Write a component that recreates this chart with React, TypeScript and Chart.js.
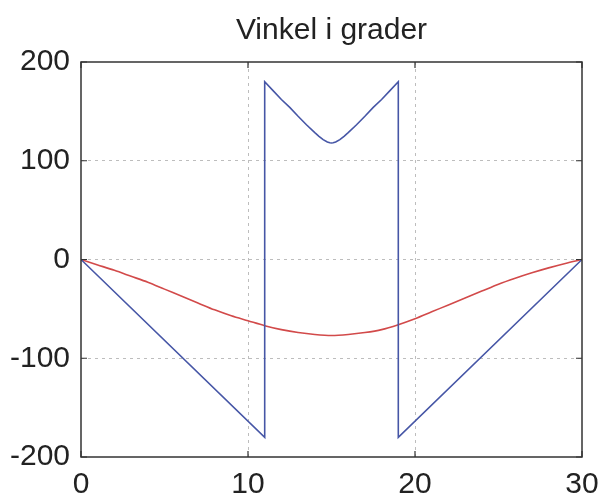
import React, { useEffect, useRef } from "react";
import { Chart, registerables } from "chart.js";

Chart.register(...registerables);

const chartTitle = "Vinkel i grader";
const xTicks = [0, 10, 20, 30];
const yTicks = [-200, -100, 0, 100, 200];

const blueX = [0, 11, 11, 11.5, 12, 12.5, 13, 13.5, 14, 14.25, 14.5, 14.75, 14.9, 15, 15.1, 15.25, 15.5, 15.75, 16, 16.5, 17, 17.5, 18, 18.5, 19, 19, 30];
const blueY = [0, -180, 180, 171, 162, 154, 145, 136.5, 128.5, 124.7, 121.4, 119, 118.2, 118, 118.2, 119, 121.4, 124.7, 128.5, 136.5, 145, 154, 162, 171, 180, -180, 0];

const redX = [0, 1, 2, 3, 4, 5, 6, 7, 8, 9, 10, 11, 12, 13, 14, 15, 16, 17, 18, 19, 20, 21, 22, 23, 24, 25, 26, 27, 28, 29, 30];
const redY = [0, -5.5, -11, -17, -23, -30, -37, -44, -51, -57, -62, -67, -71, -74, -76, -77, -76, -74, -71, -66, -60, -53, -46, -39, -32, -25, -19, -13.5, -8.5, -4, 0];

const FONT = "'Liberation Sans', Arial, sans-serif";

const boxPlugin = {
  id: "boxPlugin",
  afterDraw(chart: any) {
    const { ctx, chartArea } = chart;
    const xs = chart.scales.x;
    const ys = chart.scales.y;
    ctx.save();
    ctx.strokeStyle = "#333";
    ctx.lineWidth = 1.5;
    ctx.strokeRect(chartArea.left, chartArea.top, chartArea.right - chartArea.left, chartArea.bottom - chartArea.top);
    ctx.lineWidth = 1.2;
    const tl = 6;
    ctx.beginPath();
    xTicks.forEach((v) => {
      const px = xs.getPixelForValue(v);
      ctx.moveTo(px, chartArea.bottom);
      ctx.lineTo(px, chartArea.bottom - tl);
      ctx.moveTo(px, chartArea.top);
      ctx.lineTo(px, chartArea.top + tl);
    });
    yTicks.forEach((v) => {
      const py = ys.getPixelForValue(v);
      ctx.moveTo(chartArea.left, py);
      ctx.lineTo(chartArea.left + tl, py);
      ctx.moveTo(chartArea.right, py);
      ctx.lineTo(chartArea.right - tl, py);
    });
    ctx.stroke();
    ctx.restore();
  },
};

export default function App() {
  const ref = useRef<HTMLCanvasElement | null>(null);
  useEffect(() => {
    if (!ref.current) return;
    const gridColor = (c: any) => {
      const v = c.tick && c.tick.value;
      return v === c.scale.min || v === c.scale.max ? "rgba(0,0,0,0)" : "#bdbdbd";
    };
    const chart = new Chart(ref.current, {
      type: "line",
      data: {
        datasets: [
          {
            data: blueX.map((x, i) => ({ x, y: blueY[i] })),
            borderColor: "#4656a6",
            borderWidth: 1.6,
            pointRadius: 0,
            tension: 0,
            fill: false,
          },
          {
            data: redX.map((x, i) => ({ x, y: redY[i] })),
            borderColor: "#d24a4a",
            borderWidth: 1.6,
            pointRadius: 0,
            tension: 0.3,
            fill: false,
          },
        ],
      },
      options: {
        animation: false,
        responsive: false,
        maintainAspectRatio: false,
        layout: { padding: { left: 0, right: 21, top: 0, bottom: 0 } },
        plugins: {
          legend: { display: false },
          tooltip: { enabled: false },
          title: {
            display: true,
            fullSize: false,
            text: chartTitle,
            color: "#222",
            font: { family: FONT, size: 30, weight: "normal" },
            padding: { top: 13, bottom: 13 },
          },
        },
        scales: {
          x: {
            type: "linear",
            min: 0,
            max: 30,
            afterBuildTicks: (s: any) => {
              s.ticks = xTicks.map((v) => ({ value: v }));
            },
            afterFit: (s: any) => {
              s.height = 47;
              s.paddingLeft = 0;
              s.paddingRight = 0;
            },
            ticks: {
              color: "#222",
              font: { family: FONT, size: 30 },
              padding: 10,
              maxRotation: 0,
              autoSkip: false,
            },
            grid: { color: gridColor, drawTicks: false, lineWidth: 1 },
            border: { display: false, dash: [3, 4] },
          },
          y: {
            type: "linear",
            min: -200,
            max: 200,
            afterBuildTicks: (s: any) => {
              s.ticks = yTicks.map((v) => ({ value: v }));
            },
            afterFit: (s: any) => {
              s.width = 81;
            },
            ticks: {
              color: "#222",
              font: { family: FONT, size: 30 },
              padding: 11,
              autoSkip: false,
            },
            grid: { color: gridColor, drawTicks: false, lineWidth: 1 },
            border: { display: false, dash: [3, 4] },
          },
        },
      },
      plugins: [boxPlugin],
    } as any);
    return () => chart.destroy();
  }, []);
  return (
    <div style={{ position: "fixed", left: 0, top: 0, width: 603, height: 504, background: "#fff" }}>
      <canvas ref={ref} width={603} height={504} style={{ width: 603, height: 504 }} />
    </div>
  );
}
